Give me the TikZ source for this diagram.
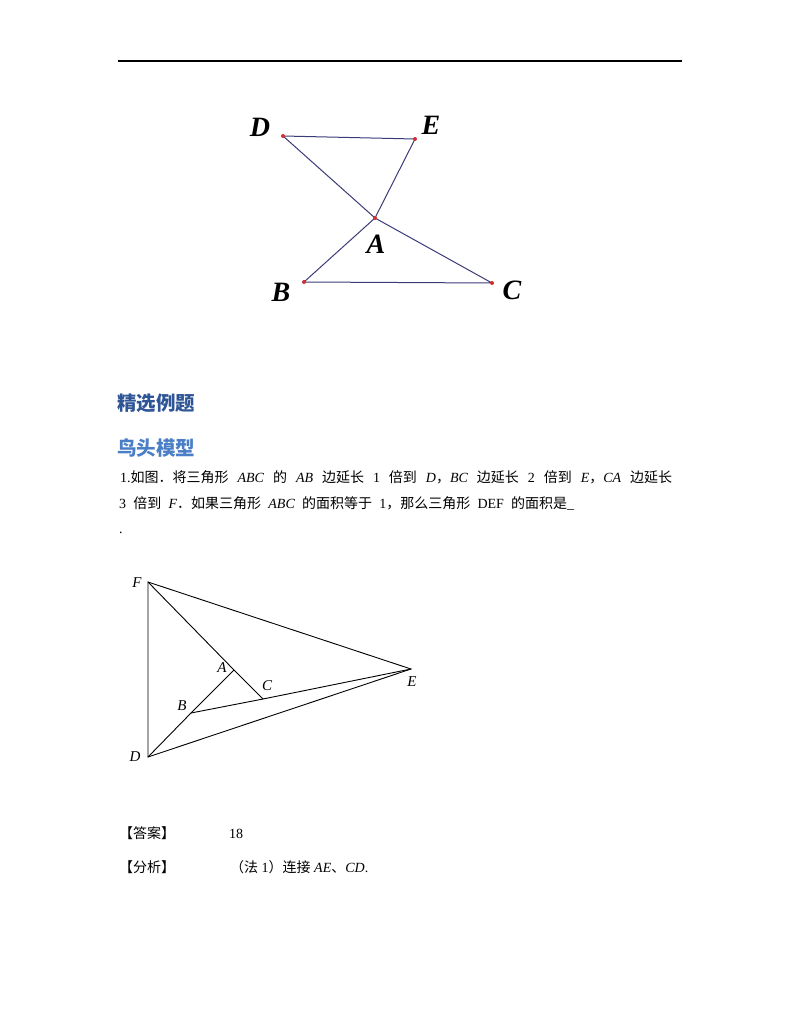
\documentclass[tikz,border=0pt]{standalone}
\usepackage{fontspec}
\setmainfont{Liberation Serif}
\newfontfamily\cjk{Noto Sans CJK SC}
\definecolor{navy}{HTML}{3B3B78}
\definecolor{ptred}{HTML}{D03030}
\definecolor{headA}{HTML}{2F5597}
\definecolor{headB}{HTML}{4A7EC6}
\tikzset{
  body/.style={anchor=base west,inner sep=0pt,font=\fontsize{14}{16}\selectfont},
  biglab/.style={inner sep=0pt,font=\fontsize{28}{30}\selectfont\bfseries\itshape},
  smalllab/.style={inner sep=0pt,font=\fontsize{15}{17}\selectfont\itshape},
  navyline/.style={draw=navy,line width=1pt},
  blkline/.style={draw=black,line width=0.9pt},
  dot/.style={circle,fill=ptred,inner sep=0pt,minimum size=4pt}
}
\begin{document}
\begin{tikzpicture}[x=1pt,y=-1pt]
\useasboundingbox (0,0) rectangle (800,1035);
\fill[white] (0,0) rectangle (800,1035);
% top rule
\coordinate (r1) at (118,61);
\coordinate (r2) at (682,61);
\draw[line width=1.6pt] (r1) -- (r2);
% first figure
\coordinate (D1) at (283,136);
\coordinate (E1) at (415,139);
\coordinate (A1) at (375,218);
\coordinate (B1) at (304,282);
\coordinate (C1) at (492,283);
\draw[navyline] (D1) -- (E1) -- (A1) -- (B1) -- (C1) -- (A1) -- (D1);
\foreach \p in {D1,E1,A1,B1,C1} \node[dot] (dot\p) at (\p) {};
\node[biglab] (lD1) at (260,127) {D};
\node[biglab] (lE1) at (431,125) {E};
\node[biglab] (lA1) at (376,244) {A};
\node[biglab] (lB1) at (281,292) {B};
\node[biglab] (lC1) at (512,290) {C};
% headings
\node[anchor=base west,inner sep=0pt,text=headA,font=\fontsize{19.5}{22}\selectfont\cjk\bfseries] (h1) at (117,410) {精选例题};
\node[anchor=base west,inner sep=0pt,text=headB,font=\fontsize{19.5}{22}\selectfont\cjk\bfseries] (h2) at (117,455) {鸟头模型};
% problem text
\node[body] (t1) at (120,482) {\makebox[552pt][s]{1.{\cjk 如图．将三角形} \textit{ABC} {\cjk 的} \textit{AB} {\cjk 边延长} 1 {\cjk 倍到} \textit{D}{\cjk ，}\textit{BC} {\cjk 边延长} 2 {\cjk 倍到} \textit{E}{\cjk ，}\textit{CA} {\cjk 边延长}}};
\node[body] (t2) at (119,508) {\makebox[455pt][s]{3 {\cjk 倍到} \textit{F}{\cjk ．如果三角形} \textit{ABC} {\cjk 的面积等于} 1{\cjk ，那么三角形} DEF {\cjk 的面积是}\_}};
\node[body] (t3) at (119,533) {.};
% second figure
\coordinate (A) at (234,670);
\coordinate (B) at (191,713);
\coordinate (C) at (263,699);
\coordinate (D) at (148,757);
\coordinate (E) at (411,669);
\coordinate (F) at (148,582);
\draw[blkline] (F) -- (E) -- (D) -- cycle;
\draw[blkline] (F) -- (A) -- (C);
\draw[blkline] (A) -- (B) -- (D);
\draw[blkline] (B) -- (C) -- (E);
\node[smalllab] (lF) at (137,583) {F};
\node[smalllab] (lA) at (222,668) {A};
\node[smalllab] (lC) at (267,686) {C};
\node[smalllab] (lB) at (182,706) {B};
\node[smalllab] (lD) at (135,757) {D};
\node[smalllab] (lE) at (412,682) {E};
% answer
\node[body] (ans1) at (119,838) {{\cjk 【答案】}};
\node[body] (ans2) at (229,838) {18};
\node[body] (ana1) at (119,872) {{\cjk 【分析】}};
\node[body] (ana2) at (230,872) {{\cjk （法} 1{\cjk ）连接} \textit{AE}{\cjk 、}\textit{CD}.};
\end{tikzpicture}
\end{document}
